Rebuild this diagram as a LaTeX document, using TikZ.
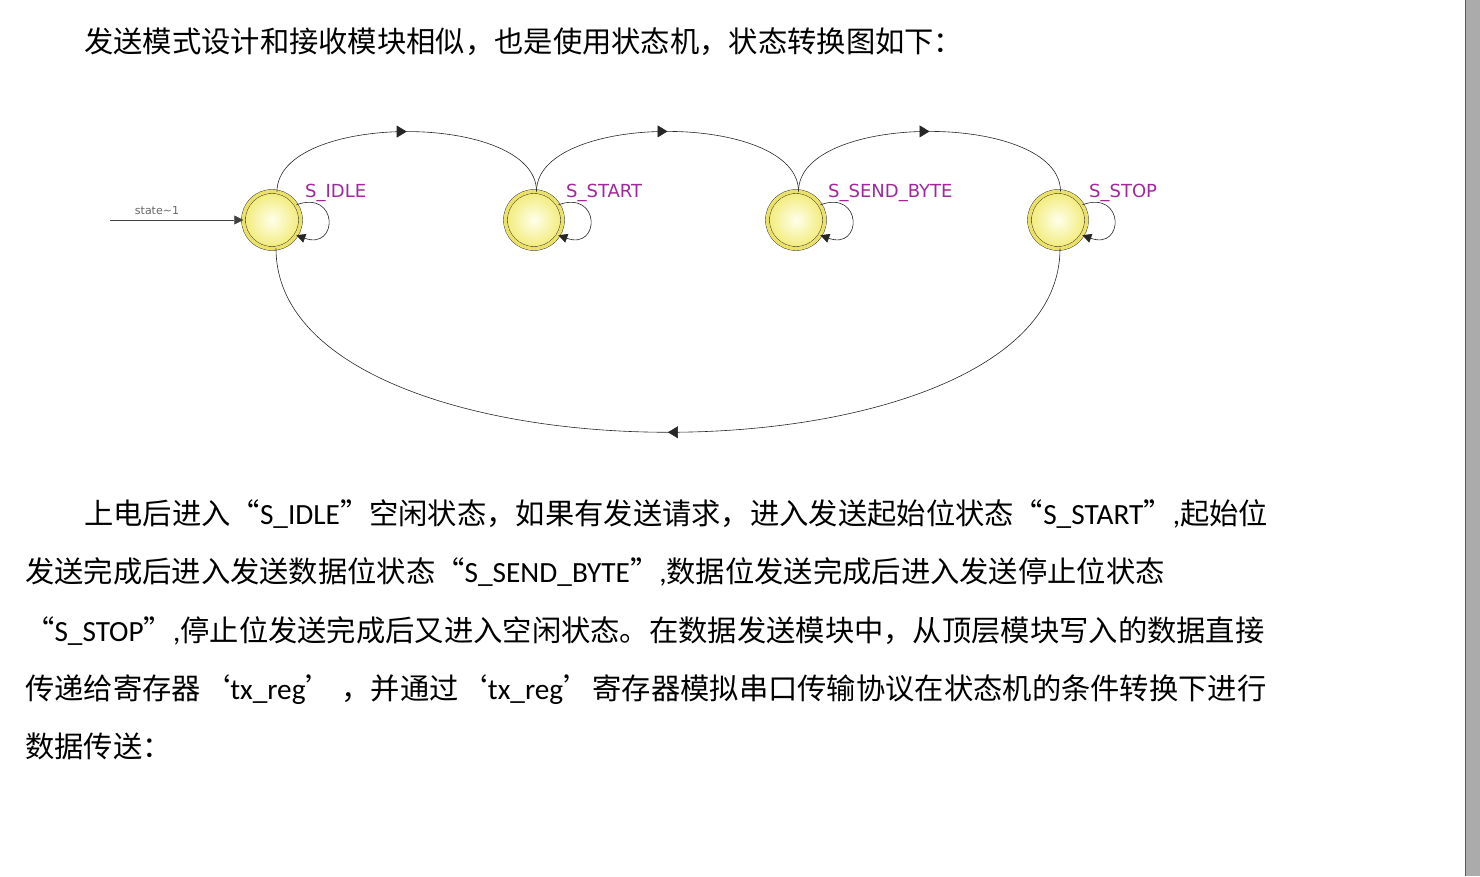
\documentclass[tikz,border=0pt]{standalone}
\usepackage{fontspec}
\setmainfont{Noto Sans CJK SC}
\newfontfamily\latinfont{Carlito}
\newfontfamily\fsmfont{DejaVu Sans}
\usetikzlibrary{arrows.meta,decorations.markings}
\definecolor{fsmfill}{HTML}{F2EB78}
\definecolor{fsmring}{HTML}{EBE16A}
\definecolor{fsmname}{HTML}{A0289C}
\definecolor{pageedge}{HTML}{ABABAB}
\newcommand{\en}[1]{{\latinfont #1}}
\tikzset{
    fsm-state/.style = {circle, draw=black!85, line width=0.4pt, double=fsmring, double distance=3.6pt, inner color=yellow!8!white, outer color=fsmfill, minimum size=57pt, inner sep=0pt},
    fsm-name/.style = {text=fsmname, font=\fsmfont\fontsize{18}{21}\selectfont, inner sep=0pt, anchor=base west},
    fsm-edge/.style = {draw=black!85, line width=0.6pt, -{Triangle[length=9pt,width=9pt]}},
    fsm-mid/.style = {draw=black!85, line width=0.6pt, postaction=decorate, decoration={markings, mark=at position 0.5 with {\arrow{Triangle[length=10pt,width=12pt]}}}},
    para-line/.style = {anchor=base west, inner sep=0pt, font=\fontsize{29.3}{58}\selectfont},
}

\begin{document}
\begin{tikzpicture}[x=1pt,y=1pt]
\useasboundingbox (0,0) rectangle (1480,876);
\fill[pageedge] (1465.5,0) rectangle (1480,876);
\draw[black!65, line width=1pt] (1465,0) -- (1465,876);

\node[para-line] (title) at (84,823) {发送模式设计和接收模块相似，也是使用状态机，状态转换图如下：};

\node[fsm-state] (idle) at (272,656) {};
\node[fsm-state] (start) at (534,656) {};
\node[fsm-state] (sendbyte) at (796,656) {};
\node[fsm-state] (stop) at (1058,656) {};

\node[fsm-name] (idle-name) at ([shift={(33,22)}]idle.center) {S\_IDLE};
\node[fsm-name] (start-name) at ([shift={(32,22)}]start.center) {S\_START};
\node[fsm-name] (sendbyte-name) at ([shift={(32,22)}]sendbyte.center) {S\_SEND\_BYTE};
\node[fsm-name] (stop-name) at ([shift={(31,22)}]stop.center) {S\_STOP};

\coordinate (init) at (110,656);
\node[text=black!60, font=\fsmfont\fontsize{11}{13}\selectfont, inner sep=0pt] (init-name) at (157,665) {state\textasciitilde 1};
\draw[fsm-edge, draw=black!75] (init) -- (idle);

\foreach \s in {idle,start,sendbyte,stop}
    \draw[fsm-edge] (\s.32) .. controls +(20:45) and +(-20:45) .. (\s.-32);

\draw[fsm-mid] (idle.80) .. controls +(0,80) and +(0,80) .. (start.85);
\draw[fsm-mid] (start.85) .. controls +(0,80) and +(0,80) .. (sendbyte.85);
\draw[fsm-mid] (sendbyte.85) .. controls +(0,80) and +(0,80) .. (stop.85);
\draw[fsm-mid] (stop.-86) .. controls +(0,-245) and +(0,-245) .. (idle.-82);

\node[para-line] (p1) at (84,351) {上电后进入“\en{S\_IDLE}”空闲状态，如果有发送请求，进入发送起始位状态“\en{S\_START}”\en{,}起始位};
\node[para-line] (p2) at (25,293) {发送完成后进入发送数据位状态“\en{S\_SEND\_BYTE}”\en{,}数据位发送完成后进入发送停止位状态};
\node[para-line] (p3) at (25,235) {“\en{S\_STOP}”\en{,}停止位发送完成后又进入空闲状态。在数据发送模块中，从顶层模块写入的数据直接};
\node[para-line] (p4) at (25,177) {传递给寄存器‘\en{tx\_reg}’ ，并通过‘\en{tx\_reg}’寄存器模拟串口传输协议在状态机的条件转换下进行};
\node[para-line] (p5) at (25,119) {数据传送：};
\end{tikzpicture}
\end{document}
